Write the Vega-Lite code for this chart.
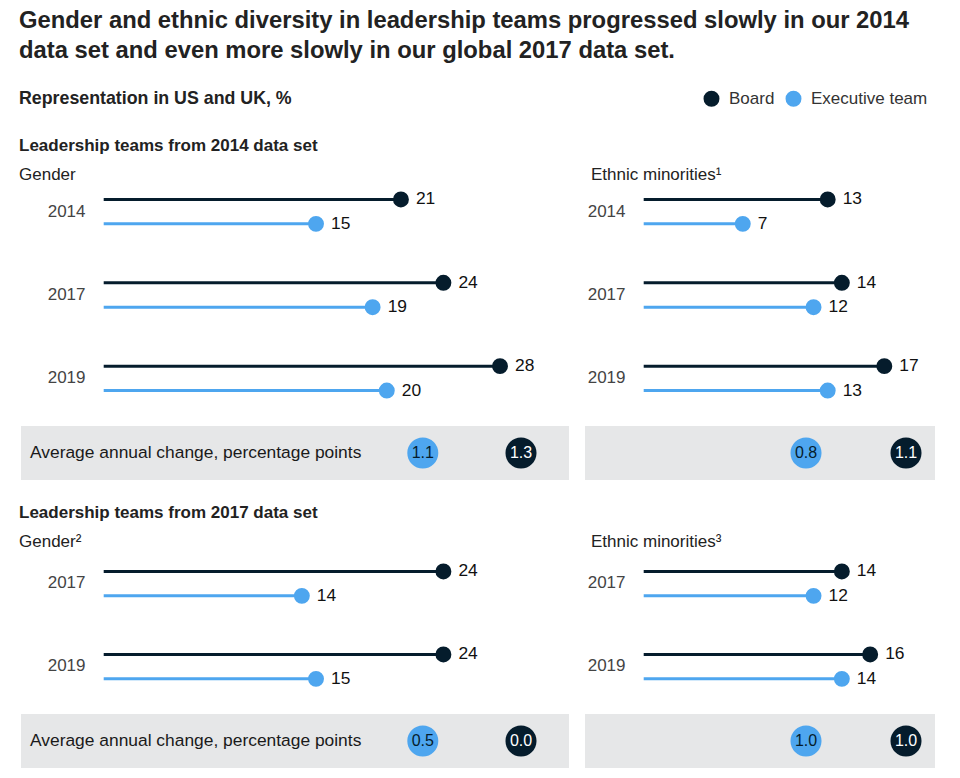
{
  "$schema": "https://vega.github.io/schema/vega-lite/v6.json",
  "padding": {"left": 19, "top": 9, "right": 5, "bottom": 5},
  "background": "white",
  "config": {"font": "Liberation Sans", "view": {"stroke": null}},
  "title": {
    "text": ["Gender and ethnic diversity in leadership teams progressed slowly in our 2014", "data set and even more slowly in our global 2017 data set."],
    "subtitle": "Representation in US and UK, %",
    "anchor": "start",
    "font": "Liberation Sans",
    "fontSize": 23.8, "fontWeight": "bold", "color": "#222222", "lineHeight": 30,
    "subtitleFont": "Liberation Sans",
    "subtitleFontSize": 17.8, "subtitleFontWeight": "bold", "subtitleColor": "#222222", "subtitlePadding": 27,
    "offset": -18
  },
  "datasets": {
    "lollipop": [
      {"set": "2014", "group": "Gender", "year": "2014", "series": "Board", "value": 21},
      {"set": "2014", "group": "Gender", "year": "2014", "series": "Executive team", "value": 15},
      {"set": "2014", "group": "Gender", "year": "2017", "series": "Board", "value": 24},
      {"set": "2014", "group": "Gender", "year": "2017", "series": "Executive team", "value": 19},
      {"set": "2014", "group": "Gender", "year": "2019", "series": "Board", "value": 28},
      {"set": "2014", "group": "Gender", "year": "2019", "series": "Executive team", "value": 20},
      {"set": "2014", "group": "Ethnic", "year": "2014", "series": "Board", "value": 13},
      {"set": "2014", "group": "Ethnic", "year": "2014", "series": "Executive team", "value": 7},
      {"set": "2014", "group": "Ethnic", "year": "2017", "series": "Board", "value": 14},
      {"set": "2014", "group": "Ethnic", "year": "2017", "series": "Executive team", "value": 12},
      {"set": "2014", "group": "Ethnic", "year": "2019", "series": "Board", "value": 17},
      {"set": "2014", "group": "Ethnic", "year": "2019", "series": "Executive team", "value": 13},
      {"set": "2017", "group": "Gender", "year": "2017", "series": "Board", "value": 24},
      {"set": "2017", "group": "Gender", "year": "2017", "series": "Executive team", "value": 14},
      {"set": "2017", "group": "Gender", "year": "2019", "series": "Board", "value": 24},
      {"set": "2017", "group": "Gender", "year": "2019", "series": "Executive team", "value": 15},
      {"set": "2017", "group": "Ethnic", "year": "2017", "series": "Board", "value": 14},
      {"set": "2017", "group": "Ethnic", "year": "2017", "series": "Executive team", "value": 12},
      {"set": "2017", "group": "Ethnic", "year": "2019", "series": "Board", "value": 16},
      {"set": "2017", "group": "Ethnic", "year": "2019", "series": "Executive team", "value": 14}
    ],
    "change": [
      {"set": "2014", "group": "Gender", "series": "Executive team", "change": 1.1},
      {"set": "2014", "group": "Gender", "series": "Board", "change": 1.3},
      {"set": "2014", "group": "Ethnic", "series": "Executive team", "change": 0.8},
      {"set": "2014", "group": "Ethnic", "series": "Board", "change": 1.1},
      {"set": "2017", "group": "Gender", "series": "Executive team", "change": 0.5},
      {"set": "2017", "group": "Gender", "series": "Board", "change": 0.0},
      {"set": "2017", "group": "Ethnic", "series": "Executive team", "change": 1.0},
      {"set": "2017", "group": "Ethnic", "series": "Board", "change": 1.0}
    ]
  },
  "columns": 2,
  "bounds": "flush",
  "spacing": {"row": 6, "column": 16},
  "resolve": {"scale": {"color": "shared"}, "legend": {"color": "shared"}},
  "concat": [
    {
      "width": 548, "height": 250,
      "title": {"text": "Leadership teams from 2014 data set", "subtitle": "Gender", "anchor": "start", "dx": -2, "offset": -14, "font": "Liberation Sans", "fontSize": 17, "fontWeight": "bold", "color": "#222222", "subtitleFont": "Liberation Sans", "subtitleFontSize": 17, "subtitleColor": "#222222", "subtitlePadding": 12, "subtitleFontWeight": "normal"},
      "data": {"name": "lollipop"},
      "transform": [{"filter": "datum.set === '2014' && datum.group === 'Gender'"}],
      "encoding": {
        "y": {"field": "year", "type": "nominal", "title": null, "scale": {"paddingInner": 0, "paddingOuter": 0}, "axis": {"offset": -64, "ticks": false, "domain": false, "labelPadding": 0, "labelFontSize": 17, "labelColor": "#444444", "labelFont": "Liberation Sans"}},
        "yOffset": {"field": "series", "type": "nominal", "scale": {"domain": ["Board", "Executive team"], "paddingInner": 0, "paddingOuter": 0.708}},
        "color": {"field": "series", "type": "nominal", "scale": {"domain": ["Board", "Executive team"], "range": ["#051c2c", "#4ea6ef"]}, "legend": {"orient": "none", "legendX": 682, "legendY": -80, "direction": "horizontal", "title": null, "symbolType": "circle", "symbolSize": 254, "symbolOpacity": 1, "symbolStrokeWidth": 0, "labelFontSize": 17, "labelColor": "#333333", "labelOffset": 9, "columnPadding": 10, "padding": 0, "labelFont": "Liberation Sans"}}
      },
      "layer": [
        {"mark": {"type": "rule", "strokeWidth": 3}, "encoding": {"x": {"field": "value", "type": "quantitative", "scale": {"domain": [-5.843, 32.874], "nice": false, "zero": false}, "axis": null}, "x2": {"datum": 0}}},
        {"mark": {"type": "point", "filled": true, "size": 254, "opacity": 1}, "encoding": {"x": {"field": "value", "type": "quantitative"}}},
        {"mark": {"type": "text", "align": "left", "dx": 15, "fontSize": 17.4}, "encoding": {"x": {"field": "value", "type": "quantitative"}, "text": {"field": "value"}, "color": {"value": "#111111"}}}
      ]
    },
    {
      "width": 350, "height": 250,
      "title": {"text": " ", "subtitle": "Ethnic minorities¹", "anchor": "start", "dx": 6, "offset": -14, "font": "Liberation Sans", "fontSize": 17, "fontWeight": "bold", "color": "#222222", "subtitleFont": "Liberation Sans", "subtitleFontSize": 17, "subtitleColor": "#222222", "subtitlePadding": 12, "subtitleFontWeight": "normal"},
      "data": {"name": "lollipop"},
      "transform": [{"filter": "datum.set === '2014' && datum.group === 'Ethnic'"}],
      "encoding": {
        "y": {"field": "year", "type": "nominal", "title": null, "scale": {"paddingInner": 0, "paddingOuter": 0}, "axis": {"offset": -40, "ticks": false, "domain": false, "labelPadding": 0, "labelFontSize": 17, "labelColor": "#444444", "labelFont": "Liberation Sans"}},
        "yOffset": {"field": "series", "type": "nominal", "scale": {"domain": ["Board", "Executive team"], "paddingInner": 0, "paddingOuter": 0.708}},
        "color": {"field": "series", "type": "nominal", "scale": {"domain": ["Board", "Executive team"], "range": ["#051c2c", "#4ea6ef"]}, "legend": {"orient": "none", "legendX": 682, "legendY": -80, "direction": "horizontal", "title": null, "symbolType": "circle", "symbolSize": 254, "symbolOpacity": 1, "symbolStrokeWidth": 0, "labelFontSize": 17, "labelColor": "#333333", "labelOffset": 9, "columnPadding": 10, "padding": 0, "labelFont": "Liberation Sans"}}
      },
      "layer": [
        {"mark": {"type": "rule", "strokeWidth": 3}, "encoding": {"x": {"field": "value", "type": "quantitative", "scale": {"domain": [-4.147, 20.581], "nice": false, "zero": false}, "axis": null}, "x2": {"datum": 0}}},
        {"mark": {"type": "point", "filled": true, "size": 254, "opacity": 1}, "encoding": {"x": {"field": "value", "type": "quantitative"}}},
        {"mark": {"type": "text", "align": "left", "dx": 15, "fontSize": 17.4}, "encoding": {"x": {"field": "value", "type": "quantitative"}, "text": {"field": "value"}, "color": {"value": "#111111"}}}
      ]
    },
    {
      "width": 548, "height": 54,
      "view": {"fill": "#e6e7e8", "stroke": null},
      "encoding": {"x": {"field": "series", "type": "nominal", "scale": {"type": "point", "domain": ["label", "g1", "g2", "g3", "Executive team", "Board"], "range": [9, 500], "padding": 0}, "axis": null}},
      "layer": [
        {"data": {"values": [{"series": "label", "text": "Average annual change, percentage points"}]}, "mark": {"type": "text", "align": "left", "fontSize": 17.4, "color": "#1a1a1a"}, "encoding": {"text": {"field": "text"}}},
        {"data": {"name": "change"}, "transform": [{"filter": "datum.set === '2014' && datum.group === 'Gender'"}], "mark": {"type": "point", "filled": true, "size": 962, "opacity": 1}, "encoding": {"color": {"field": "series", "type": "nominal", "scale": {"domain": ["Board", "Executive team"], "range": ["#051c2c", "#4ea6ef"]}, "legend": {"orient": "none", "legendX": 682, "legendY": -80, "direction": "horizontal", "title": null, "symbolType": "circle", "symbolSize": 254, "symbolOpacity": 1, "symbolStrokeWidth": 0, "labelFontSize": 17, "labelColor": "#333333", "labelOffset": 9, "columnPadding": 10, "padding": 0, "labelFont": "Liberation Sans"}}}},
        {"data": {"name": "change"}, "transform": [{"filter": "datum.set === '2014' && datum.group === 'Gender'"}], "mark": {"type": "text", "fontSize": 16}, "encoding": {"text": {"field": "change", "type": "quantitative", "format": ".1f"}, "color": {"condition": {"test": "datum.series === 'Board'", "value": "#ffffff"}, "value": "#051c2c"}}}
      ]
    },
    {
      "width": 350, "height": 54,
      "view": {"fill": "#e6e7e8", "stroke": null},
      "encoding": {"x": {"field": "series", "type": "nominal", "scale": {"type": "point", "domain": ["Executive team", "Board"], "range": [221, 321], "padding": 0}, "axis": null}},
      "layer": [
        {"data": {"name": "change"}, "transform": [{"filter": "datum.set === '2014' && datum.group === 'Ethnic'"}], "mark": {"type": "point", "filled": true, "size": 962, "opacity": 1}, "encoding": {"color": {"field": "series", "type": "nominal", "scale": {"domain": ["Board", "Executive team"], "range": ["#051c2c", "#4ea6ef"]}, "legend": {"orient": "none", "legendX": 682, "legendY": -80, "direction": "horizontal", "title": null, "symbolType": "circle", "symbolSize": 254, "symbolOpacity": 1, "symbolStrokeWidth": 0, "labelFontSize": 17, "labelColor": "#333333", "labelOffset": 9, "columnPadding": 10, "padding": 0, "labelFont": "Liberation Sans"}}}},
        {"data": {"name": "change"}, "transform": [{"filter": "datum.set === '2014' && datum.group === 'Ethnic'"}], "mark": {"type": "text", "fontSize": 16}, "encoding": {"text": {"field": "change", "type": "quantitative", "format": ".1f"}, "color": {"condition": {"test": "datum.series === 'Board'", "value": "#ffffff"}, "value": "#051c2c"}}}
      ]
    },
    {
      "width": 548, "height": 222,
      "title": {"text": "Leadership teams from 2017 data set", "subtitle": "Gender²", "anchor": "start", "dx": -2, "offset": -65, "font": "Liberation Sans", "fontSize": 17, "fontWeight": "bold", "color": "#222222", "subtitleFont": "Liberation Sans", "subtitleFontSize": 17, "subtitleColor": "#222222", "subtitlePadding": 12, "subtitleFontWeight": "normal"},
      "data": {"name": "lollipop"},
      "transform": [{"filter": "datum.set === '2017' && datum.group === 'Gender'"}],
      "encoding": {
        "y": {"field": "year", "type": "nominal", "title": null, "scale": {"paddingInner": 0, "paddingOuter": 0.3373, "align": 1}, "axis": {"offset": -64, "ticks": false, "domain": false, "labelPadding": 0, "labelFontSize": 17, "labelColor": "#444444", "labelFont": "Liberation Sans"}},
        "yOffset": {"field": "series", "type": "nominal", "scale": {"domain": ["Board", "Executive team"], "paddingInner": 0, "paddingOuter": 0.7}},
        "color": {"field": "series", "type": "nominal", "scale": {"domain": ["Board", "Executive team"], "range": ["#051c2c", "#4ea6ef"]}, "legend": {"orient": "none", "legendX": 682, "legendY": -80, "direction": "horizontal", "title": null, "symbolType": "circle", "symbolSize": 254, "symbolOpacity": 1, "symbolStrokeWidth": 0, "labelFontSize": 17, "labelColor": "#333333", "labelOffset": 9, "columnPadding": 10, "padding": 0, "labelFont": "Liberation Sans"}}
      },
      "layer": [
        {"mark": {"type": "rule", "strokeWidth": 3}, "encoding": {"x": {"field": "value", "type": "quantitative", "scale": {"domain": [-5.843, 32.874], "nice": false, "zero": false}, "axis": null}, "x2": {"datum": 0}}},
        {"mark": {"type": "point", "filled": true, "size": 254, "opacity": 1}, "encoding": {"x": {"field": "value", "type": "quantitative"}}},
        {"mark": {"type": "text", "align": "left", "dx": 15, "fontSize": 17.4}, "encoding": {"x": {"field": "value", "type": "quantitative"}, "text": {"field": "value"}, "color": {"value": "#111111"}}}
      ]
    },
    {
      "width": 350, "height": 222,
      "title": {"text": " ", "subtitle": "Ethnic minorities³", "anchor": "start", "dx": 6, "offset": -65, "font": "Liberation Sans", "fontSize": 17, "fontWeight": "bold", "color": "#222222", "subtitleFont": "Liberation Sans", "subtitleFontSize": 17, "subtitleColor": "#222222", "subtitlePadding": 12, "subtitleFontWeight": "normal"},
      "data": {"name": "lollipop"},
      "transform": [{"filter": "datum.set === '2017' && datum.group === 'Ethnic'"}],
      "encoding": {
        "y": {"field": "year", "type": "nominal", "title": null, "scale": {"paddingInner": 0, "paddingOuter": 0.3373, "align": 1}, "axis": {"offset": -40, "ticks": false, "domain": false, "labelPadding": 0, "labelFontSize": 17, "labelColor": "#444444", "labelFont": "Liberation Sans"}},
        "yOffset": {"field": "series", "type": "nominal", "scale": {"domain": ["Board", "Executive team"], "paddingInner": 0, "paddingOuter": 0.7}},
        "color": {"field": "series", "type": "nominal", "scale": {"domain": ["Board", "Executive team"], "range": ["#051c2c", "#4ea6ef"]}, "legend": {"orient": "none", "legendX": 682, "legendY": -80, "direction": "horizontal", "title": null, "symbolType": "circle", "symbolSize": 254, "symbolOpacity": 1, "symbolStrokeWidth": 0, "labelFontSize": 17, "labelColor": "#333333", "labelOffset": 9, "columnPadding": 10, "padding": 0, "labelFont": "Liberation Sans"}}
      },
      "layer": [
        {"mark": {"type": "rule", "strokeWidth": 3}, "encoding": {"x": {"field": "value", "type": "quantitative", "scale": {"domain": [-4.147, 20.581], "nice": false, "zero": false}, "axis": null}, "x2": {"datum": 0}}},
        {"mark": {"type": "point", "filled": true, "size": 254, "opacity": 1}, "encoding": {"x": {"field": "value", "type": "quantitative"}}},
        {"mark": {"type": "text", "align": "left", "dx": 15, "fontSize": 17.4}, "encoding": {"x": {"field": "value", "type": "quantitative"}, "text": {"field": "value"}, "color": {"value": "#111111"}}}
      ]
    },
    {
      "width": 548, "height": 54,
      "view": {"fill": "#e6e7e8", "stroke": null},
      "encoding": {"x": {"field": "series", "type": "nominal", "scale": {"type": "point", "domain": ["label", "g1", "g2", "g3", "Executive team", "Board"], "range": [9, 500], "padding": 0}, "axis": null}},
      "layer": [
        {"data": {"values": [{"series": "label", "text": "Average annual change, percentage points"}]}, "mark": {"type": "text", "align": "left", "fontSize": 17.4, "color": "#1a1a1a"}, "encoding": {"text": {"field": "text"}}},
        {"data": {"name": "change"}, "transform": [{"filter": "datum.set === '2017' && datum.group === 'Gender'"}], "mark": {"type": "point", "filled": true, "size": 962, "opacity": 1}, "encoding": {"color": {"field": "series", "type": "nominal", "scale": {"domain": ["Board", "Executive team"], "range": ["#051c2c", "#4ea6ef"]}, "legend": {"orient": "none", "legendX": 682, "legendY": -80, "direction": "horizontal", "title": null, "symbolType": "circle", "symbolSize": 254, "symbolOpacity": 1, "symbolStrokeWidth": 0, "labelFontSize": 17, "labelColor": "#333333", "labelOffset": 9, "columnPadding": 10, "padding": 0, "labelFont": "Liberation Sans"}}}},
        {"data": {"name": "change"}, "transform": [{"filter": "datum.set === '2017' && datum.group === 'Gender'"}], "mark": {"type": "text", "fontSize": 16}, "encoding": {"text": {"field": "change", "type": "quantitative", "format": ".1f"}, "color": {"condition": {"test": "datum.series === 'Board'", "value": "#ffffff"}, "value": "#051c2c"}}}
      ]
    },
    {
      "width": 350, "height": 54,
      "view": {"fill": "#e6e7e8", "stroke": null},
      "encoding": {"x": {"field": "series", "type": "nominal", "scale": {"type": "point", "domain": ["Executive team", "Board"], "range": [221, 321], "padding": 0}, "axis": null}},
      "layer": [
        {"data": {"name": "change"}, "transform": [{"filter": "datum.set === '2017' && datum.group === 'Ethnic'"}], "mark": {"type": "point", "filled": true, "size": 962, "opacity": 1}, "encoding": {"color": {"field": "series", "type": "nominal", "scale": {"domain": ["Board", "Executive team"], "range": ["#051c2c", "#4ea6ef"]}, "legend": {"orient": "none", "legendX": 682, "legendY": -80, "direction": "horizontal", "title": null, "symbolType": "circle", "symbolSize": 254, "symbolOpacity": 1, "symbolStrokeWidth": 0, "labelFontSize": 17, "labelColor": "#333333", "labelOffset": 9, "columnPadding": 10, "padding": 0, "labelFont": "Liberation Sans"}}}},
        {"data": {"name": "change"}, "transform": [{"filter": "datum.set === '2017' && datum.group === 'Ethnic'"}], "mark": {"type": "text", "fontSize": 16}, "encoding": {"text": {"field": "change", "type": "quantitative", "format": ".1f"}, "color": {"condition": {"test": "datum.series === 'Board'", "value": "#ffffff"}, "value": "#051c2c"}}}
      ]
    }
  ]
}
